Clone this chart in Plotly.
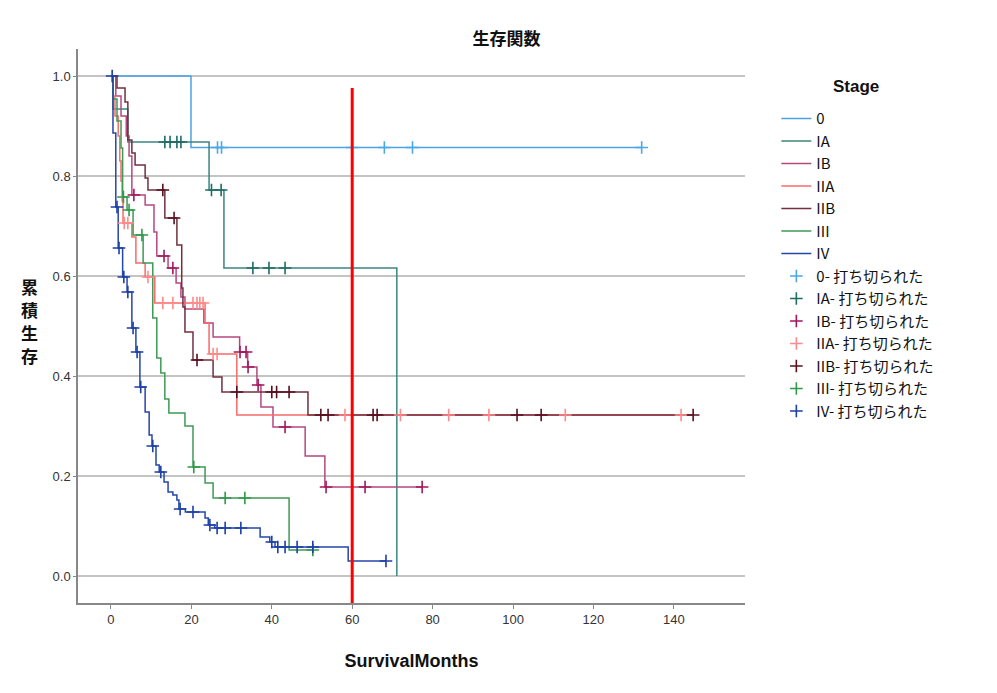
#!/usr/bin/env python3
"""
Kaplan-Meier survival curves by stage (values read off the SPSS output).
"""
import plotly.graph_objects as go

# --- data: event times (months) and survival after each event, censor times ---
STAGES = ["0", "IA", "IB", "IIA", "IIB", "III", "IV"]

t0 = [19.9]
s0 = [0.857]
c0 = [26.5, 27.5, 60.0, 68.0, 75.0, 132.0]

tIA = [0.5, 4.2, 24.4, 28.1, 71.1]
sIA = [0.934, 0.868, 0.772, 0.616, 0.0]
cIA = [13.4, 14.7, 16.4, 17.4, 25.0, 27.4, 35.3, 39.3, 43.3]

tIB = [1.2, 2.5, 3.8, 4.5, 5.2, 8.5, 10.7, 11.4, 14.2, 16.2, 17.4, 18.4,
       23.1, 25.4, 32.0, 34.0, 36.3, 37.3, 40.3, 48.3, 53.2]
sIB = [0.96, 0.92, 0.88, 0.84, 0.762, 0.742, 0.688, 0.64, 0.616, 0.586, 0.558, 0.534,
       0.506, 0.478, 0.448, 0.418, 0.382, 0.338, 0.298, 0.24, 0.178]
cIB = [5.7, 13.2, 15.4, 32.1, 33.6, 34.1, 36.6, 43.3, 53.5, 63.2, 77.4]

tIIA = [0.5, 1.0, 1.8, 2.2, 2.5, 2.8, 3.0, 5.2, 6.2, 8.5, 10.9, 23.4, 24.4, 31.3]
sIIA = [0.96, 0.92, 0.88, 0.83, 0.79, 0.75, 0.706, 0.678, 0.626, 0.598, 0.546,
        0.506, 0.444, 0.322]
cIIA = [3.3, 4.2, 9.2, 12.9, 15.4, 20.4, 21.4, 22.1, 22.9, 25.4, 26.4,
        58.2, 72.0, 84.0, 94.0, 113.0, 141.8]

tIIB = [1.5, 3.5, 4.2, 5.2, 6.0, 8.5, 9.2, 13.4, 16.4, 17.6, 17.9, 18.4,
        20.4, 25.4, 27.6, 49.0]
sIIB = [0.976, 0.948, 0.872, 0.846, 0.822, 0.796, 0.772, 0.716, 0.662, 0.576,
        0.538, 0.488, 0.432, 0.398, 0.368, 0.322]
cIIB = [12.9, 15.7, 21.4, 31.3, 40.0, 41.2, 44.3, 52.2, 54.0, 65.2, 66.2,
        101.0, 107.0, 144.8]

tIII = [0.5, 1.5, 2.5, 2.9, 4.0, 5.5, 8.0, 10.4, 11.4, 12.4, 13.4, 14.4,
        18.4, 20.4, 23.4, 25.4, 44.3]
sIII = [0.954, 0.91, 0.856, 0.758, 0.732, 0.682, 0.626, 0.516, 0.436, 0.406,
        0.354, 0.326, 0.30, 0.218, 0.186, 0.156, 0.052]
cIII = [3.1, 4.5, 7.7, 20.6, 28.4, 33.3, 50.2]

tIV = [0.5, 1.2, 1.8, 2.9, 4.0, 5.2, 6.2, 7.2, 8.5, 9.5, 10.2, 11.2, 12.0,
       13.2, 14.2, 15.4, 16.4, 16.9, 18.5, 23.4, 24.2, 25.8, 37.1, 39.5, 40.8, 59.0]
sIV = [0.886, 0.738, 0.656, 0.598, 0.568, 0.496, 0.448, 0.378, 0.328, 0.282,
       0.26, 0.222, 0.208, 0.188, 0.168, 0.162, 0.152, 0.134, 0.128, 0.116,
       0.102, 0.096, 0.078, 0.068, 0.058, 0.03]
cIV = [0.3, 1.5, 2.0, 3.2, 4.2, 5.5, 6.5, 7.4, 10.4, 12.4, 17.2, 20.4, 24.6,
       26.4, 28.4, 32.3, 40.0, 41.5, 43.3, 46.3, 50.2, 68.4]

X_TICKS = [0, 20, 40, 60, 80, 100, 120, 140]
Y_TICKS = [0.0, 0.2, 0.4, 0.6, 0.8, 1.0]
CUTOFF_MONTHS = 60
Y_TITLE_CHARS = ["累", "積", "生", "存"]

LINE_COLORS = ["#4ba3e3", "#3a8580", "#b5487f", "#f86a6a", "#703040", "#3e9a55", "#2447a8"]
CENSOR_COLORS = ["#4aa7e8", "#1f6b66", "#a3175c", "#ff8a8a", "#5a0f1f", "#2f9a4a", "#1c3fa8"]

FONT = "Arial, Liberation Sans, Noto Sans CJK JP, sans-serif"
JP_FONT = "Noto Sans CJK JP, sans-serif"


def surv_at(times, surv, t):
    """Step-function lookup: survival at time t."""
    s = 1.0
    for ti, si in zip(times, surv):
        if ti <= t:
            s = si
    return s


curves = [(t0, s0, c0), (tIA, sIA, cIA), (tIB, sIB, cIB), (tIIA, sIIA, cIIA),
          (tIIB, sIIB, cIIB), (tIII, sIII, cIII), (tIV, sIV, cIV)]

fig = go.Figure()

# step curves
for name, (times, surv, cens), color in zip(STAGES, curves, LINE_COLORS):
    end = max(times + cens)
    xs = [0] + times + [end]
    ys = [1.0] + surv + [surv[-1]]
    fig.add_trace(go.Scatter(
        x=xs, y=ys, mode="lines", name=name,
        line=dict(color=color, width=1.5, shape="hv"),
    ))

# censor marks
for name, (times, surv, cens), color in zip(STAGES, curves, CENSOR_COLORS):
    fig.add_trace(go.Scatter(
        x=cens, y=[surv_at(times, surv, c) for c in cens],
        mode="markers", name=f"{name}- 打ち切られた",
        marker=dict(symbol="cross-thin", size=9, color=color,
                    line=dict(color=color, width=1.6)),
    ))

# 60-month reference line
fig.add_shape(type="line", x0=CUTOFF_MONTHS, x1=CUTOFF_MONTHS, y0=-0.06, y1=0.976,
              xref="x", yref="y", line=dict(color="#ff0000", width=3))

# vertical (stacked) y axis title, one character per annotation
for i, ch in enumerate(Y_TITLE_CHARS):
    fig.add_annotation(
        text=f"<b>{ch}</b>", xref="paper", yref="paper",
        x=-0.072, y=0.571 - i * 0.0415,
        showarrow=False, font=dict(family=JP_FONT, size=17, color="#111"),
        xanchor="center", yanchor="middle",
    )

# legend title drawn separately so the gap above the items matches
fig.add_annotation(
    text="<b>Stage</b>", xref="paper", yref="paper", x=1.166, y=0.933,
    showarrow=False, font=dict(family=FONT, size=17, color="#111"),
    xanchor="center", yanchor="middle",
)

fig.update_layout(
    width=997, height=693,
    margin=dict(l=70, r=260, t=41, b=98),
    paper_bgcolor="white", plot_bgcolor="white",
    font=dict(family=FONT, size=13, color="#222"),
    title=dict(text="<b>生存関数</b>", x=0.5, xanchor="center", y=0.955, yanchor="middle",
               font=dict(family=JP_FONT, size=17, color="#111")),
    showlegend=True,
    legend=dict(
        x=1.047, y=0.904, xanchor="left", yanchor="top",
        font=dict(family=JP_FONT, size=15, color="#111"),
        itemwidth=30, bgcolor="rgba(0,0,0,0)",
    ),
    xaxis=dict(
        range=[-8.2, 157.7], tickvals=X_TICKS, showgrid=False, zeroline=False,
        showline=True, linecolor="#888", linewidth=1.5,
        ticks="outside", ticklen=4, tickcolor="#888",
        tickfont=dict(size=13, color="#333"),
        title=dict(text="<b>SurvivalMonths</b>", font=dict(family=FONT, size=18, color="#111"),
                   standoff=28),
    ),
    yaxis=dict(
        range=[-0.054, 1.054], tickvals=Y_TICKS, tickformat=".1f",
        showgrid=True, gridcolor="#c4c4c4", gridwidth=1.8, zeroline=False,
        showline=True, linecolor="#888", linewidth=1.5,
        ticks="outside", ticklen=3, tickcolor="#888",
        tickfont=dict(size=13, color="#333"),
    ),
)

fig.write_html("out.html")
